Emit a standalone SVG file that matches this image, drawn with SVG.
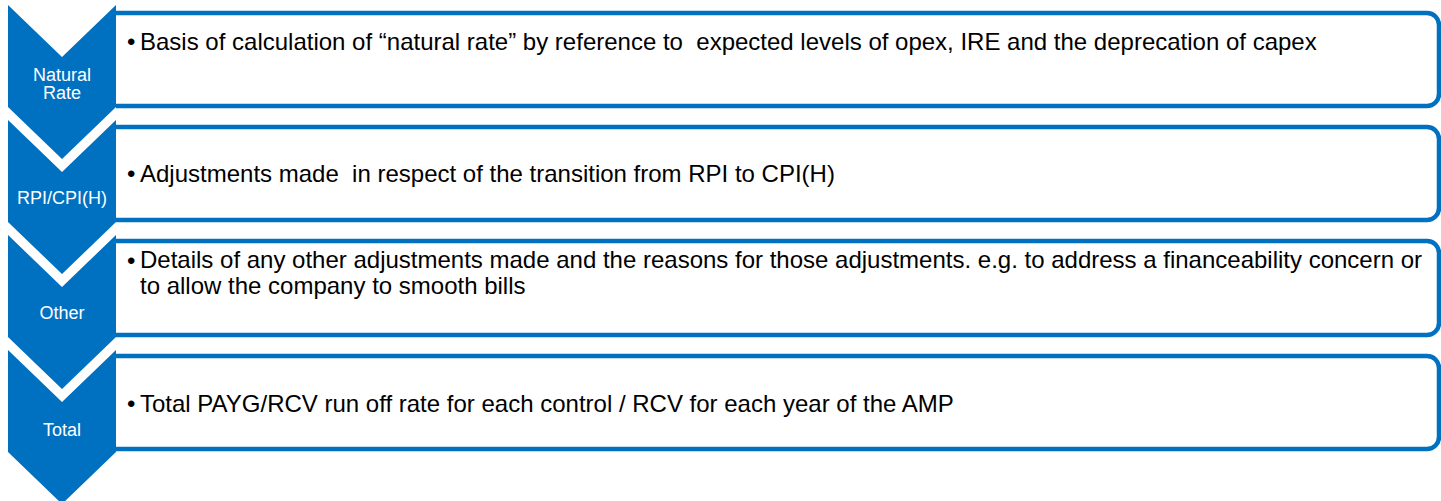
<svg xmlns="http://www.w3.org/2000/svg" width="1441" height="501" viewBox="0 0 1441 501">
<style>
.box{fill:#fff;stroke:#0070C0;stroke-width:4.5}
.chev{fill:#0070C0}
.lbl{font-family:"Liberation Sans",Arial,sans-serif;font-size:18px;fill:#fff;text-anchor:middle}
.txt{font-family:"Liberation Sans",Arial,sans-serif;font-size:24px;fill:#000;white-space:pre}
</style>
<rect width="1441" height="501" fill="#fff"/>
<g id="connectors"></g>
<g id="node1">
<path class="box" d="M116,13 H1427 A12,12 0 0 1 1439,25 V94 A12,12 0 0 1 1427,106 H116"/>
<path class="chev" d="M8,5 L62,57 L116,5 L116,107 L62,159 L8,107 Z"/>
<text class="lbl" x="62" y="81">Natural</text>
<text class="lbl" x="62" y="99">Rate</text>
<text class="txt" x="127" y="50">•</text>
<text class="txt" x="140" y="50">Basis of calculation of “natural rate” by reference to  expected levels of opex, IRE and the deprecation of capex</text>
</g>
<g id="node2">
<path class="box" d="M116,127 H1427 A12,12 0 0 1 1439,139 V208 A12,12 0 0 1 1427,220 H116"/>
<path class="chev" d="M8,120 L62,172 L116,120 L116,222 L62,274 L8,222 Z"/>
<text class="lbl" x="62" y="204">RPI/CPI(H)</text>
<text class="txt" x="127" y="182">•</text>
<text class="txt" x="140" y="182">Adjustments made  in respect of the transition from RPI to CPI(H)</text>
</g>
<g id="node3">
<path class="box" d="M116,241 H1427 A12,12 0 0 1 1439,253 V323 A12,12 0 0 1 1427,335 H116"/>
<path class="chev" d="M8,235 L62,287 L116,235 L116,337 L62,389 L8,337 Z"/>
<text class="lbl" x="62" y="319">Other</text>
<text class="txt" x="127" y="269">•</text>
<text class="txt" x="140" y="268">Details of any other adjustments made and the reasons for those adjustments. e.g. to address a financeability concern or</text>
<text class="txt" x="140" y="294">to allow the company to smooth bills</text>
</g>
<g id="node4">
<path class="box" d="M116,356 H1427 A12,12 0 0 1 1439,368 V437 A12,12 0 0 1 1427,449 H116"/>
<path class="chev" d="M8,350 L62,402 L116,350 L116,452 L62,504 L8,452 Z"/>
<text class="lbl" x="62" y="436">Total</text>
<text class="txt" x="127" y="412">•</text>
<text class="txt" x="140" y="412">Total PAYG/RCV run off rate for each control / RCV for each year of the AMP</text>
</g>
</svg>
